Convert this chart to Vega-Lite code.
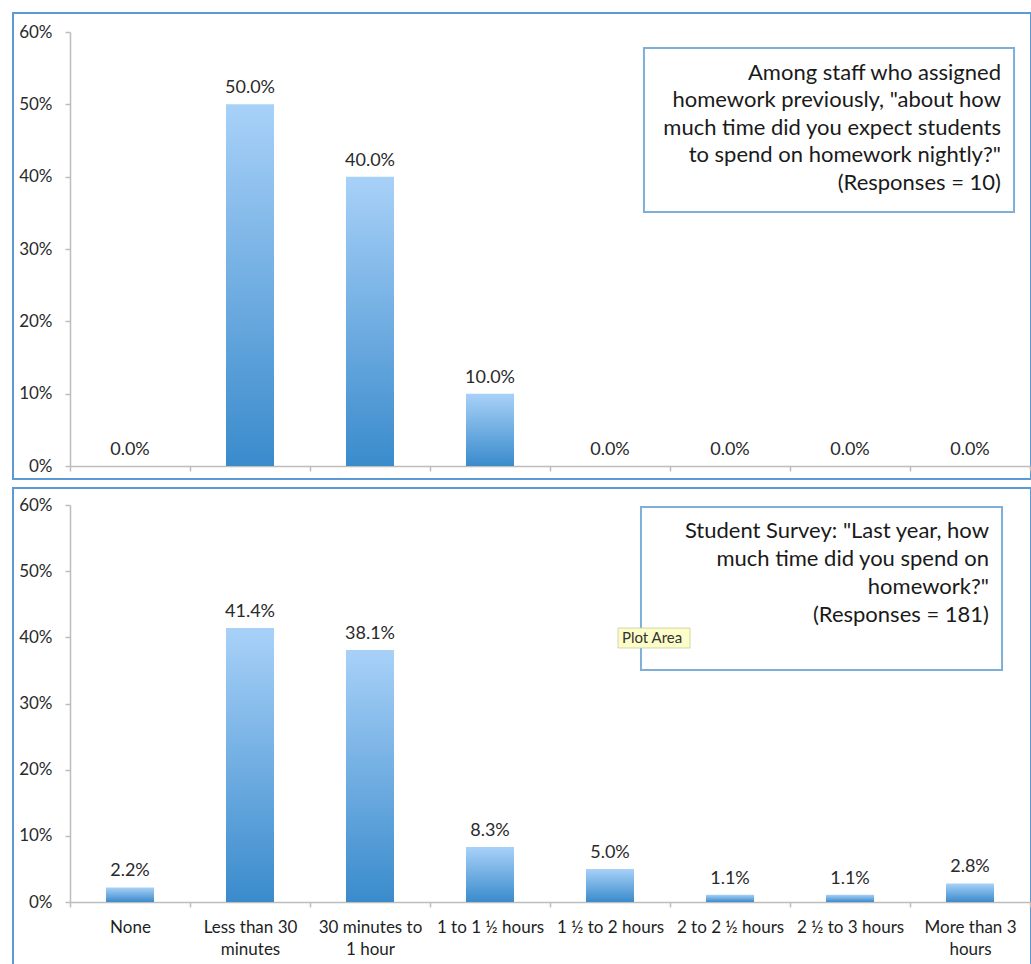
{
  "$schema": "https://vega.github.io/schema/vega-lite/v6.json",
  "padding": {"left": 12, "top": 12, "right": 0, "bottom": 0},
  "background": "white",
  "spacing": 7,
  "config": {
    "view": {"stroke": "#5b9bd5", "strokeWidth": 2},
    "font": "Lato",
    "axis": {
      "domainColor": "#bdbdbd",
      "domainWidth": 1.5,
      "tickColor": "#bdbdbd",
      "tickWidth": 1.5,
      "tickSize": 5,
      "labelColor": "#2a2a2a",
      "labelFont": "Lato",
      "labelFontSize": 17,
      "grid": false,
      "title": null
    }
  },
  "datasets": {
    "staff": [
      {"category": "None", "share": 0},
      {"category": "Less than 30 minutes", "share": 0.5},
      {"category": "30 minutes to 1 hour", "share": 0.4},
      {"category": "1 to 1 ½ hours", "share": 0.1},
      {"category": "1 ½ to 2 hours", "share": 0},
      {"category": "2 to 2 ½ hours", "share": 0},
      {"category": "2 ½ to 3 hours", "share": 0},
      {"category": "More than 3 hours", "share": 0}
    ],
    "students": [
      {"category": "None", "share": 0.022},
      {"category": "Less than 30 minutes", "share": 0.414},
      {"category": "30 minutes to 1 hour", "share": 0.381},
      {"category": "1 to 1 ½ hours", "share": 0.083},
      {"category": "1 ½ to 2 hours", "share": 0.05},
      {"category": "2 to 2 ½ hours", "share": 0.011},
      {"category": "2 ½ to 3 hours", "share": 0.011},
      {"category": "More than 3 hours", "share": 0.028}
    ]
  },
  "vconcat": [
    {
      "width": 1018,
      "height": 466,
      "data": {"name": "staff"},
      "resolve": {"scale": {"x": "independent"}, "axis": {"x": "independent", "y": "independent"}},
      "layer": [
        {
          "mark": {
            "type": "bar",
            "width": {"band": 0.4},
            "color": {
              "gradient": "linear", "x1": 0, "y1": 0, "x2": 0, "y2": 1,
              "stops": [{"offset": 0, "color": "#a8d1f8"}, {"offset": 1, "color": "#3a8bcc"}]
            }
          },
          "encoding": {
            "x": {
              "field": "category", "type": "nominal", "sort": null,
              "scale": {"type": "band", "paddingInner": 0, "paddingOuter": 0, "range": [57, 1017]},
              "axis": {"labels": false, "offset": -13, "tickBand": "extent"}
            },
            "y": {
              "field": "share", "type": "quantitative",
              "scale": {"domain": [0, 0.6], "range": [453, 19], "nice": false},
              "axis": {"offset": -57, "format": ".0%", "values": [0, 0.1, 0.2, 0.3, 0.4, 0.5, 0.6], "labelPadding": 13}
            }
          }
        },
        {
          "mark": {"type": "text", "baseline": "alphabetic", "dy": -11, "fontSize": 18, "color": "#2a2a2a"},
          "encoding": {
            "x": {
              "field": "category", "type": "nominal", "sort": null,
              "scale": {"type": "band", "paddingInner": 0, "paddingOuter": 0, "range": [57, 1017]},
              "axis": null
            },
            "y": {
              "field": "share", "type": "quantitative",
              "scale": {"domain": [0, 0.6], "range": [453, 19], "nice": false},
              "axis": null
            },
            "text": {"field": "share", "format": ".1%"}
          }
        },
        {
          "data": {"values": [{}]},
          "mark": {"type": "rect", "fill": "white", "stroke": "#7eafd9", "strokeWidth": 2},
          "encoding": {
            "x": {"datum": 4.783, "type": "quantitative", "scale": {"domain": [0, 8], "range": [57, 1017]}, "axis": null},
            "x2": {"datum": 7.867},
            "y": {"datum": 0.5779, "type": "quantitative", "scale": {"domain": [0, 0.6], "range": [453, 19], "nice": false}, "axis": null},
            "y2": {"datum": 0.3512}
          }
        },
        {
          "data": {"values": [{}]},
          "mark": {
            "type": "text", "align": "right", "baseline": "top", "fontSize": 22, "lineHeight": 27.5, "color": "#1a1a1a",
            "text": ["Among staff who assigned", "homework previously, \"about how", "much time did you expect students", "to spend on homework nightly?\"", "(Responses = 10)"]
          },
          "encoding": {
            "x": {"datum": 7.758, "type": "quantitative", "scale": {"domain": [0, 8], "range": [57, 1017]}, "axis": null},
            "y": {"datum": 0.5575, "type": "quantitative", "scale": {"domain": [0, 0.6], "range": [453, 19], "nice": false}, "axis": null}
          }
        }
      ]
    },
    {
      "width": 1018,
      "height": 478,
      "data": {"name": "students"},
      "resolve": {"scale": {"x": "independent"}, "axis": {"x": "independent", "y": "independent"}},
      "layer": [
        {
          "mark": {
            "type": "bar",
            "width": {"band": 0.4},
            "color": {
              "gradient": "linear", "x1": 0, "y1": 0, "x2": 0, "y2": 1,
              "stops": [{"offset": 0, "color": "#a8d1f8"}, {"offset": 1, "color": "#3a8bcc"}]
            }
          },
          "encoding": {
            "x": {
              "field": "category", "type": "nominal", "sort": null,
              "scale": {"type": "band", "paddingInner": 0, "paddingOuter": 0, "range": [57, 1017]},
              "axis": {
                "offset": -64, "tickBand": "extent", "labelAngle": 0, "labelPadding": 12,
                "labelBaseline": "top", "labelLineHeight": 22, "labelOverlap": false, "labelColor": "#1e1e1e",
                "labelExpr": "datum.label == 'Less than 30 minutes' ? ['Less than 30', 'minutes'] : datum.label == '30 minutes to 1 hour' ? ['30 minutes to', '1 hour'] : datum.label == 'More than 3 hours' ? ['More than 3', 'hours'] : datum.label"
              }
            },
            "y": {
              "field": "share", "type": "quantitative",
              "scale": {"domain": [0, 0.6], "range": [414, 17], "nice": false},
              "axis": {"offset": -57, "format": ".0%", "values": [0, 0.1, 0.2, 0.3, 0.4, 0.5, 0.6], "labelPadding": 13}
            }
          }
        },
        {
          "mark": {"type": "text", "baseline": "alphabetic", "dy": -11, "fontSize": 18, "color": "#2a2a2a"},
          "encoding": {
            "x": {
              "field": "category", "type": "nominal", "sort": null,
              "scale": {"type": "band", "paddingInner": 0, "paddingOuter": 0, "range": [57, 1017]},
              "axis": null
            },
            "y": {
              "field": "share", "type": "quantitative",
              "scale": {"domain": [0, 0.6], "range": [414, 17], "nice": false},
              "axis": null
            },
            "text": {"field": "share", "format": ".1%"}
          }
        },
        {
          "data": {"values": [{}]},
          "mark": {"type": "rect", "fill": "white", "stroke": "#7eafd9", "strokeWidth": 2},
          "encoding": {
            "x": {"datum": 4.758, "type": "quantitative", "scale": {"domain": [0, 8], "range": [57, 1017]}, "axis": null},
            "x2": {"datum": 7.767},
            "y": {"datum": 0.597, "type": "quantitative", "scale": {"domain": [0, 0.6], "range": [414, 17], "nice": false}, "axis": null},
            "y2": {"datum": 0.3506}
          }
        },
        {
          "data": {"values": [{}]},
          "mark": {
            "type": "text", "align": "right", "baseline": "top", "fontSize": 22, "lineHeight": 28, "color": "#1a1a1a",
            "text": ["Student Survey: \"Last year, how", "much time did you spend on", "homework?\"", "(Responses = 181)"]
          },
          "encoding": {
            "x": {"datum": 7.658, "type": "quantitative", "scale": {"domain": [0, 8], "range": [57, 1017]}, "axis": null},
            "y": {"datum": 0.576, "type": "quantitative", "scale": {"domain": [0, 0.6], "range": [414, 17], "nice": false}, "axis": null}
          }
        },
        {
          "data": {"values": [{}]},
          "mark": {"type": "rect", "fill": "#fdfdc8", "stroke": "#c9c9a0", "strokeWidth": 0.8},
          "encoding": {
            "x": {"datum": 4.567, "type": "quantitative", "scale": {"domain": [0, 8], "range": [57, 1017]}, "axis": null},
            "x2": {"datum": 5.167},
            "y": {"datum": 0.4141, "type": "quantitative", "scale": {"domain": [0, 0.6], "range": [414, 17], "nice": false}, "axis": null},
            "y2": {"datum": 0.3839}
          }
        },
        {
          "data": {"values": [{}]},
          "mark": {"type": "text", "align": "left", "baseline": "middle", "fontSize": 15, "color": "#333333", "text": "Plot Area"},
          "encoding": {
            "x": {"datum": 4.6, "type": "quantitative", "scale": {"domain": [0, 8], "range": [57, 1017]}, "axis": null},
            "y": {"datum": 0.399, "type": "quantitative", "scale": {"domain": [0, 0.6], "range": [414, 17], "nice": false}, "axis": null}
          }
        }
      ]
    }
  ]
}
